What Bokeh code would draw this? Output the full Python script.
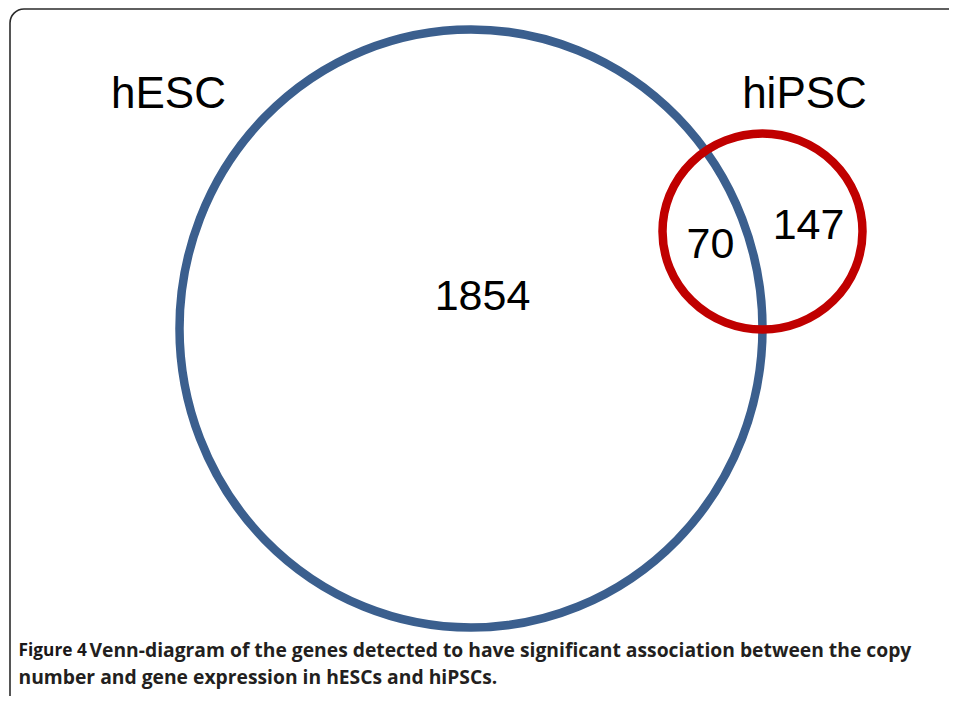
from bokeh.plotting import figure
from bokeh.models import Range1d
from bokeh.core.properties import value
from bokeh.embed import file_html
from bokeh.resources import INLINE

# Venn sets and region counts
set_names = ["hESC", "hiPSC"]
region_labels = ["1854", "70", "147"]
caption_bold = "Figure 4"
caption_line1 = "Venn-diagram of the genes detected to have significant association between the copy"
caption_line2 = "number and gene expression in hESCs and hiPSCs."

W, H = 949, 696
p = figure(width=W, height=H, output_backend="svg", toolbar_location=None,
           x_range=Range1d(0, W), y_range=Range1d(H, 0),
           min_border=0)
p.axis.visible = False
p.grid.visible = False
p.outline_line_color = None
p.background_fill_color = "white"
p.border_fill_color = "white"

# frame border (rounded)
p.quad(left=[9.5], right=[1200], top=[8.5], bottom=[1200], border_radius=14,
       fill_color=None, line_color="#2b2b2b", line_width=1.6)

# circles
p.ellipse(x=[470.5], y=[328], width=[583], height=[598], fill_color=None,
          line_color="#3b5f8e", line_width=8.5)
p.ellipse(x=[762], y=[231], width=[200], height=[196], fill_color=None,
          line_color="#c00000", line_width=8.5)

font = value("Liberation Sans")
p.text(x=[168, 804], y=[92, 92], text=set_names, text_font=font,
       text_font_size="44px", text_align="center", text_baseline="alphabetic",
       text_color="black")
p.text(x=[482, 710, 808], y=[295, 243, 224], text=region_labels, text_font=font,
       text_font_size="43px", text_align="center", text_baseline="alphabetic",
       text_color="black")

cfont = value("Open Sans")
p.text(x=[18], y=[649], text=[caption_bold], text_font=cfont, text_font_size="17.3px",
       text_font_style="bold", text_align="left", text_baseline="alphabetic",
       text_color="#1a1718")
p.text(x=[89], y=[649], text=[caption_line1], text_font=cfont, text_font_size="19.3px",
       text_font_style="bold", text_align="left", text_baseline="alphabetic",
       text_color="#231f20")
p.text(x=[18], y=[676], text=[caption_line2], text_font=cfont, text_font_size="19.3px",
       text_font_style="bold", text_align="left", text_baseline="alphabetic",
       text_color="#231f20")

open("out.html", "w").write(file_html(p, INLINE))
